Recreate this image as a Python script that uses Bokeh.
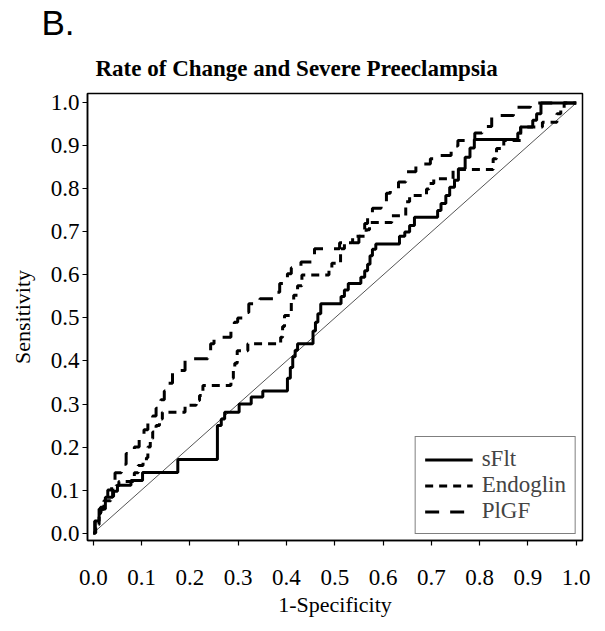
from bokeh.plotting import figure
from bokeh.models import Range1d, FixedTicker, Title, Legend, LegendItem
from bokeh.embed import file_html
from bokeh.resources import INLINE

# ---- data ----
tick_values = [0.0, 0.1, 0.2, 0.3, 0.4, 0.5, 0.6, 0.7, 0.8, 0.9, 1.0]
tick_labels = ["0.0", "0.1", "0.2", "0.3", "0.4", "0.5", "0.6", "0.7", "0.8", "0.9", "1.0"]

series_names = ["sFlt", "Endoglin", "PlGF"]

sflt_fpr = [0.000, 0.004, 0.012, 0.025, 0.040, 0.050, 0.078, 0.102, 0.175, 0.257,
            0.265, 0.272, 0.302, 0.327, 0.351, 0.402, 0.408, 0.413, 0.418, 0.423,
            0.455, 0.460, 0.465, 0.471, 0.513, 0.520, 0.528, 0.554, 0.562, 0.568,
            0.573, 0.578, 0.585, 0.634, 0.645, 0.655, 0.665, 0.713, 0.720, 0.730,
            0.738, 0.748, 0.756, 0.770, 0.780, 0.789, 0.879, 0.885, 0.910, 0.918,
            0.927, 1.000]
sflt_tpr = [0.000, 0.028, 0.056, 0.083, 0.097, 0.111, 0.122, 0.141, 0.171, 0.250,
            0.265, 0.281, 0.300, 0.316, 0.330, 0.360, 0.385, 0.410, 0.425, 0.440,
            0.470, 0.490, 0.510, 0.533, 0.550, 0.565, 0.580, 0.595, 0.610, 0.625,
            0.645, 0.660, 0.672, 0.690, 0.700, 0.715, 0.734, 0.750, 0.766, 0.785,
            0.804, 0.820, 0.847, 0.874, 0.895, 0.915, 0.930, 0.944, 0.960, 0.975,
            1.000, 1.000]

endoglin_fpr = [0.000, 0.005, 0.012, 0.016, 0.022, 0.036, 0.042, 0.047, 0.053, 0.085,
                0.093, 0.103, 0.110, 0.113, 0.118, 0.123, 0.130, 0.137, 0.143, 0.190,
                0.213, 0.220, 0.227, 0.285, 0.290, 0.293, 0.298, 0.320, 0.388, 0.392,
                0.396, 0.410, 0.415, 0.423, 0.432, 0.488, 0.494, 0.512, 0.520, 0.537,
                0.565, 0.572, 0.618, 0.647, 0.655, 0.690, 0.695, 0.705, 0.745, 0.828,
                0.835, 0.850, 0.885, 0.930, 0.960, 0.968, 0.975, 1.000]
endoglin_tpr = [0.000, 0.020, 0.040, 0.055, 0.075, 0.085, 0.100, 0.110, 0.120, 0.140,
                0.157, 0.165, 0.175, 0.200, 0.220, 0.235, 0.250, 0.265, 0.281, 0.297,
                0.308, 0.320, 0.343, 0.360, 0.378, 0.395, 0.424, 0.440, 0.455, 0.480,
                0.506, 0.540, 0.553, 0.575, 0.600, 0.610, 0.627, 0.661, 0.675, 0.690,
                0.705, 0.722, 0.738, 0.770, 0.785, 0.800, 0.813, 0.824, 0.845, 0.870,
                0.894, 0.913, 0.944, 0.955, 0.975, 0.987, 1.000, 1.000]

plgf_fpr = [0.000, 0.003, 0.008, 0.015, 0.022, 0.030, 0.038, 0.045, 0.058, 0.068,
            0.085, 0.095, 0.105, 0.113, 0.123, 0.130, 0.140, 0.147, 0.152, 0.164,
            0.190, 0.237, 0.243, 0.250, 0.285, 0.292, 0.299, 0.310, 0.322, 0.345,
            0.380, 0.386, 0.402, 0.410, 0.430, 0.458, 0.510, 0.550, 0.556, 0.562,
            0.568, 0.578, 0.596, 0.607, 0.615, 0.632, 0.647, 0.668, 0.698, 0.714,
            0.741, 0.748, 0.755, 0.790, 0.805, 0.825, 0.870, 0.905, 1.000]
plgf_tpr = [0.000, 0.028, 0.045, 0.060, 0.075, 0.100, 0.120, 0.140, 0.160, 0.185,
            0.200, 0.220, 0.240, 0.255, 0.272, 0.290, 0.310, 0.330, 0.348, 0.378,
            0.405, 0.420, 0.440, 0.455, 0.475, 0.490, 0.500, 0.513, 0.533, 0.545,
            0.560, 0.580, 0.603, 0.617, 0.630, 0.661, 0.675, 0.690, 0.705, 0.720,
            0.740, 0.755, 0.770, 0.790, 0.800, 0.816, 0.840, 0.858, 0.870, 0.878,
            0.890, 0.900, 0.913, 0.930, 0.945, 0.971, 0.990, 1.000, 1.000]

ref_x = [0.0, 1.0]
ref_y = [0.0, 1.0]

assert len(sflt_fpr) == len(sflt_tpr)
assert len(endoglin_fpr) == len(endoglin_tpr)
assert len(plgf_fpr) == len(plgf_tpr)

SERIF = "Liberation Serif"

p = figure(width=597, height=623,
           x_range=Range1d(-0.012, 1.013), y_range=Range1d(-0.0174, 1.022),
           output_backend="svg", toolbar_location=None,
           min_border_left=87, min_border_right=15, min_border_top=93, min_border_bottom=83)

# panel label (farthest from the frame)
p.title.text = "B."
p.title.text_font = "Liberation Sans"
p.title.text_font_style = "normal"
p.title.text_font_size = "35px"
p.title.text_color = "black"
p.title.align = "left"
p.title.offset = -46
p.title.standoff = 0

# chart title (closest to the frame)
p.add_layout(Title(text="Rate of Change and Severe Preeclampsia", text_font=SERIF,
                   text_font_style="bold", text_font_size="23px", text_color="black",
                   align="left", offset=8, standoff=25), "above")

p.xgrid.visible = False
p.ygrid.visible = False
p.outline_line_color = "black"
p.outline_line_width = 1.5
p.background_fill_color = "white"
p.border_fill_color = "white"

overrides = {v: l for v, l in zip(tick_values, tick_labels)}
for ax in (p.xaxis[0], p.yaxis[0]):
    ax.ticker = FixedTicker(ticks=tick_values)
    ax.major_label_overrides = overrides
    ax.minor_tick_line_color = None
    ax.major_tick_in = 0
    ax.major_tick_out = 5
    ax.major_tick_line_color = "black"
    ax.major_tick_line_width = 1.2
    ax.axis_line_color = "black"
    ax.axis_line_width = 1.5
    ax.major_label_text_font = SERIF
    ax.major_label_text_font_size = "23px"
    ax.major_label_text_color = "black"
    ax.axis_label_text_font = SERIF
    ax.axis_label_text_font_size = "22px"
    ax.axis_label_text_font_style = "normal"
    ax.axis_label_text_color = "black"

p.xaxis.axis_label = "1-Specificity"
p.yaxis.axis_label = "Sensitivity"
p.xaxis.major_label_standoff = 24
p.xaxis.axis_label_standoff = 4
p.yaxis.major_label_standoff = 3
p.yaxis.axis_label_standoff = 13

p.line(ref_x, ref_y, line_color="#555555", line_width=1)

r_sflt = p.step(sflt_fpr, sflt_tpr, mode="after", line_color="black", line_width=3)
r_endo = p.step(endoglin_fpr, endoglin_tpr, mode="after", line_color="black",
                line_width=3, line_dash="8 6")
r_plgf = p.step(plgf_fpr, plgf_tpr, mode="after", line_color="black",
                line_width=3, line_dash="14 11")

legend = Legend(items=[LegendItem(label=series_names[0], renderers=[r_sflt]),
                       LegendItem(label=series_names[1], renderers=[r_endo]),
                       LegendItem(label=series_names[2], renderers=[r_plgf])],
                location="bottom_right")
legend.label_text_font = SERIF
legend.label_text_font_size = "23px"
legend.label_text_line_height = 0.85
legend.glyph_width = 48
legend.glyph_height = 21
legend.label_height = 21
legend.label_standoff = 9
legend.spacing = 0
legend.padding = 9
legend.margin = 6
legend.border_line_color = "black"
legend.border_line_width = 1.5
legend.background_fill_alpha = 1.0
p.add_layout(legend)

open("out.html", "w").write(file_html(p, INLINE))
